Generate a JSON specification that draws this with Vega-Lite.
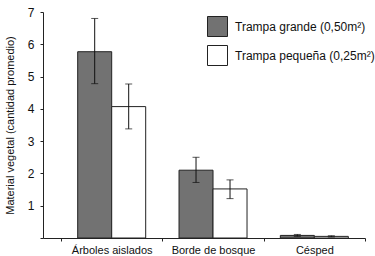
{
  "$schema": "https://vega.github.io/schema/vega-lite/v6.json",
  "width": 322,
  "height": 226,
  "autosize": "none",
  "padding": {"left": 43, "top": 12, "right": 10, "bottom": 18},
  "background": "white",
  "config": {
    "view": {"stroke": null},
    "font": "Liberation Sans",
    "axis": {"grid": false, "domainColor": "#222", "tickColor": "#222", "labelColor": "#111", "titleColor": "#111", "labelFont": "Liberation Sans", "titleFont": "Liberation Sans"},
    "axisY": {"titleFontSize": 11, "titleFontWeight": "normal", "labelOverlap": false, "labelFontSize": 12, "tickSize": 3, "labelPadding": 6, "titlePadding": 12}
  },
  "data": {
    "values": [
      {"cat": "Árboles aislados", "trampa": "Trampa grande (0,50m²)", "value": 5.77, "lo": 4.78, "hi": 6.8},
      {"cat": "Árboles aislados", "trampa": "Trampa pequeña (0,25m²)", "value": 4.07, "lo": 3.38, "hi": 4.77},
      {"cat": "Borde de bosque", "trampa": "Trampa grande (0,50m²)", "value": 2.1, "lo": 1.72, "hi": 2.5},
      {"cat": "Borde de bosque", "trampa": "Trampa pequeña (0,25m²)", "value": 1.52, "lo": 1.22, "hi": 1.8},
      {"cat": "Césped", "trampa": "Trampa grande (0,50m²)", "value": 0.08, "lo": 0.05, "hi": 0.11},
      {"cat": "Césped", "trampa": "Trampa pequeña (0,25m²)", "value": 0.05, "lo": 0.03, "hi": 0.07}
    ]
  },
  "encoding": {
    "x": {
      "field": "cat", "type": "nominal", "sort": null,
      "scale": {"paddingInner": 0, "paddingOuter": 0.089, "align": 1},
      "axis": {"title": null, "labelAngle": 0, "labelFontSize": 11, "tickBand": "extent", "tickSize": 3, "labelPadding": 3, "domainWidth": 1}
    },
    "xOffset": {
      "field": "trampa", "type": "nominal", "sort": null,
      "scale": {"paddingInner": 0, "paddingOuter": 0.49}
    }
  },
  "layer": [
    {
      "mark": {"type": "bar", "stroke": "#222", "strokeWidth": 1},
      "encoding": {
        "y": {
          "field": "value", "type": "quantitative",
          "scale": {"domain": [0, 7], "nice": false},
          "axis": {"title": "Material vegetal (cantidad promedio)", "values": [0, 1, 2, 3, 4, 5, 6, 7], "labelExpr": "datum.value == 0 ? '' : datum.label"}
        },
        "fill": {
          "field": "trampa", "type": "nominal", "sort": null,
          "scale": {"range": ["#727272", "#ffffff"]},
          "legend": {
            "title": null, "orient": "none", "legendX": 164, "legendY": 4, "padding": 0,
            "symbolType": "square", "symbolSize": 400, "symbolStrokeColor": "#222", "symbolStrokeWidth": 1,
            "symbolOpacity": 1, "symbolFillColor": null,
            "labelFontSize": 12, "labelFont": "Liberation Sans", "labelColor": "#111", "labelOffset": 7, "rowPadding": 4
          }
        }
      }
    },
    {
      "mark": {"type": "rule", "color": "#111", "strokeWidth": 1},
      "encoding": {
        "y": {"field": "lo", "type": "quantitative", "axis": {"title": "Material vegetal (cantidad promedio)", "values": [0, 1, 2, 3, 4, 5, 6, 7], "labelExpr": "datum.value == 0 ? '' : datum.label"}},
        "y2": {"field": "hi"}
      }
    },
    {
      "mark": {"type": "tick", "color": "#111", "thickness": 1, "size": 7, "orient": "horizontal"},
      "encoding": {"y": {"field": "lo", "type": "quantitative", "axis": {"title": "Material vegetal (cantidad promedio)", "values": [0, 1, 2, 3, 4, 5, 6, 7], "labelExpr": "datum.value == 0 ? '' : datum.label"}}}
    },
    {
      "mark": {"type": "tick", "color": "#111", "thickness": 1, "size": 7, "orient": "horizontal"},
      "encoding": {"y": {"field": "hi", "type": "quantitative", "axis": {"title": "Material vegetal (cantidad promedio)", "values": [0, 1, 2, 3, 4, 5, 6, 7], "labelExpr": "datum.value == 0 ? '' : datum.label"}}}
    }
  ]
}
